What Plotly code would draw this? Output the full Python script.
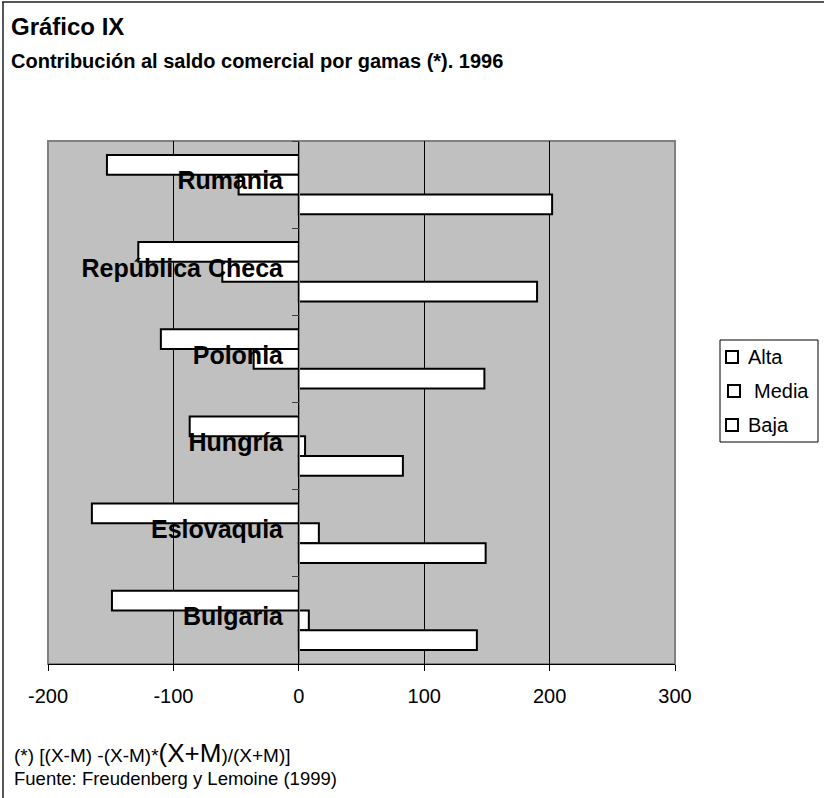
import plotly.graph_objects as go

# Countries, top to bottom
paises = ["Rumania", "República Checa", "Polonia", "Hungría", "Eslovaquia", "Bulgaria"]

# Contribution to the trade balance by quality range, 1996
alta = [-153, -128, -110, -87, -165, -149]
media = [-48, -61, -36, 5, 16, 8]
baja = [202, 190, 148, 83, 149, 142]

gamas = ["Alta", "Media", "Baja"]
x_ticks = [-200, -100, 0, 100, 200, 300]
x_tick_text = ["-200", "-100", "0", "100", "200", "300"]

W, H = 824, 798
L, R, T, B = 48, 149, 141, 134
PW, PH = W - L - R, H - T - B

FONT = "Liberation Sans, Arial, sans-serif"


def px(xp):
    return (xp - L) / PW


def py(yp):
    return 1 - (yp - T) / PH


fig = go.Figure()
for nombre, valores in zip(gamas, [alta, media, baja]):
    fig.add_trace(go.Bar(
        y=paises, x=valores, orientation="h", name=nombre,
        marker=dict(color="white", line=dict(color="black", width=2)),
        showlegend=False,
    ))

fig.update_layout(
    width=W, height=H,
    margin=dict(l=L, r=R, t=T, b=B, pad=0),
    paper_bgcolor="white", plot_bgcolor="#c0c0c0",
    barmode="group", bargap=0.32, bargroupgap=0,
    font=dict(family=FONT, color="black"),
    xaxis=dict(
        range=[x_ticks[0], x_ticks[-1]], tickvals=x_ticks, ticktext=x_tick_text,
        showgrid=True, gridcolor="black", gridwidth=1,
        zeroline=False,
        showline=True, linecolor="black", linewidth=1,
        ticks="outside", ticklen=6, tickcolor="black",
        tickfont=dict(size=20, family=FONT, color="black"),
        ticklabelstandoff=8,
        fixedrange=True,
    ),
    yaxis=dict(
        type="category", autorange="reversed",
        anchor="free", position=px(299),
        tickson="boundaries", ticks="outside", ticklen=7, tickcolor="#404040",
        showline=True, linecolor="#808080", linewidth=1,
        showgrid=False, zeroline=False,
        tickfont=dict(size=25, family=FONT, color="black", weight="bold"),
        ticklabelstandoff=11, ticklabelshift=4,
        layer="above traces",
        fixedrange=True,
    ),
)

# plot-area frame
fig.add_shape(type="rect", xref="paper", yref="paper", x0=0, x1=1, y0=0, y1=1,
              line=dict(color="#808080", width=2), layer="below")
# outer frame (top and left edges)
fig.add_shape(type="line", xref="paper", yref="paper",
              x0=px(2), x1=px(W), y0=py(2), y1=py(2),
              line=dict(color="#202020", width=1.5))
fig.add_shape(type="line", xref="paper", yref="paper",
              x0=px(3), x1=px(3), y0=py(2), y1=py(H),
              line=dict(color="#202020", width=1.5))

# legend: framed box with an outlined square per range
LEG_X0, LEG_X1, LEG_Y0, LEG_Y1 = 720, 818, 340, 442
fig.add_shape(type="rect", xref="paper", yref="paper",
              x0=px(LEG_X0), x1=px(LEG_X1), y0=py(LEG_Y0), y1=py(LEG_Y1),
              line=dict(color="black", width=1), fillcolor="white", layer="above")
leg_rows = [(357, 6, 26), (391, 8, 32), (425, 6, 26)]
for nombre, (yc, sq_dx, txt_dx) in zip(gamas, leg_rows):
    x0 = LEG_X0 + sq_dx
    fig.add_shape(type="rect", xref="paper", yref="paper",
                  x0=px(x0), x1=px(x0 + 12), y0=py(yc - 6), y1=py(yc + 6),
                  line=dict(color="black", width=2), fillcolor="white", layer="above")
    fig.add_annotation(text=nombre, xref="paper", yref="paper",
                       x=px(LEG_X0 + txt_dx), y=py(yc), xanchor="left", yanchor="middle",
                       showarrow=False, font=dict(size=20, family=FONT, color="black"))

titulos = [("Gráfico IX", 27, 24), ("Contribución al saldo comercial por gamas (*). 1996", 61, 20)]
for texto, yc, size in titulos:
    fig.add_annotation(text="<b>" + texto + "</b>", xref="paper", yref="paper",
                       x=px(9), y=py(yc), xanchor="left", yanchor="middle",
                       showarrow=False, font=dict(size=size, family=FONT, color="black"))

nota = "(*) [(X-M) -(X-M)*<span style='font-size:26px'>(X+M</span>)/(X+M)]"
fig.add_annotation(text=nota, xref="paper", yref="paper", x=px(12), y=py(753),
                   xanchor="left", yanchor="middle", showarrow=False,
                   font=dict(size=19, family=FONT, color="black"))
fig.add_annotation(text="Fuente: Freudenberg y Lemoine (1999)", xref="paper", yref="paper",
                   x=px(12), y=py(778), xanchor="left", yanchor="middle", showarrow=False,
                   font=dict(size=18.5, family=FONT, color="black"))

fig.write_html("out.html")
